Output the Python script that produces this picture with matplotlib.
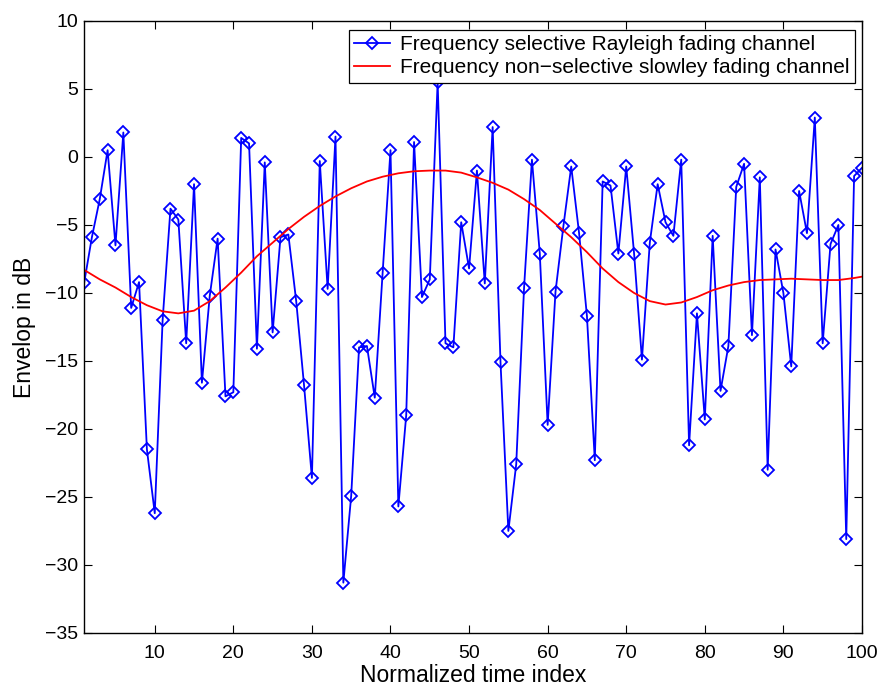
import numpy as np
import matplotlib.pyplot as plt

plt.rcParams['font.family'] = ['Liberation Sans', 'DejaVu Sans']

# Rayleigh fading envelope (dB) at each time index 1..100
t = np.arange(1, 101)
rayleigh_db = [
    -9.3, -5.9, -3.1, 0.5, -6.5, 1.8, -11.1, -9.2, -21.5, -26.2,
    -12.0, -3.8, -4.6, -13.7, -2.0, -16.6, -10.2, -6.0, -17.6, -17.3,
    1.4, 1.0, -14.1, -0.4, -12.9, -5.9, -5.7, -10.6, -16.8, -23.6,
    -0.3, -9.7, 1.5, -31.3, -24.9, -14.0, -13.9, -17.7, -8.5, 0.5,
    -25.7, -19.0, 1.1, -10.3, -9.0, 5.5, -13.7, -14.0, -4.8, -8.2,
    -1.0, -9.3, 2.2, -15.1, -27.5, -22.6, -9.6, -0.2, -7.1, -19.7,
    -9.9, -5.1, -0.7, -5.6, -11.7, -22.3, -1.8, -2.1, -7.1, -0.7,
    -7.1, -14.9, -6.3, -2.0, -4.8, -5.8, -0.2, -21.2, -11.5, -19.3,
    -5.8, -17.2, -13.9, -2.2, -0.5, -13.1, -1.5, -23.0, -6.8, -10.0,
    -15.4, -2.5, -5.6, 2.9, -13.7, -6.4, -5.0, -28.1, -1.4, -0.8,
]

# slow (non-selective) fading envelope, read every other index
slow_t = [1, 3, 5, 7, 9, 11, 13, 15, 17, 19, 21, 23, 25, 27, 29, 31, 33,
          35, 37, 39, 41, 43, 45, 47, 49, 51, 53, 55, 57, 59, 61, 63, 65,
          67, 69, 71, 73, 75, 77, 79, 81, 83, 85, 87, 89, 91, 93, 95, 97,
          99, 100]
slow_db = [-8.3, -9.0, -9.6, -10.3, -10.9, -11.35, -11.5, -11.3, -10.6,
           -9.6, -8.5, -7.3, -6.3, -5.3, -4.4, -3.6, -2.9, -2.3, -1.8,
           -1.45, -1.2, -1.05, -1.0, -1.0, -1.15, -1.5, -1.9, -2.4, -3.1,
           -3.9, -4.9, -5.9, -7.0, -8.2, -9.2, -10.0, -10.6, -10.85, -10.7,
           -10.3, -9.8, -9.45, -9.2, -9.05, -9.0, -8.95, -9.0, -9.05, -9.05,
           -8.9, -8.8]

fig = plt.figure(figsize=(8.8, 6.88), dpi=100)
ax = fig.add_axes([0.0955, 0.080, 0.884, 0.8895])

ax.plot(t, rayleigh_db, color='#0000ff', lw=1.3, marker='D', ms=6.5,
        mfc='none', mec='#0000ff', mew=1.3,
        label='Frequency selective Rayleigh fading channel')
ax.plot(slow_t, slow_db, color='#ff0000', lw=1.3,
        label='Frequency non\u2212selective slowley fading channel')

ax.set_xlim(1, 100)
ax.set_ylim(-35, 10)
ax.set_xticks(np.arange(10, 101, 10))
ax.set_yticks(np.arange(-35, 11, 5))
ax.tick_params(direction='in', top=True, right=True, length=6, width=0.8,
               labelsize=14, pad=4)
ax.tick_params(axis='x', pad=9)
ax.set_yticklabels([str(v).replace('-', '\u2212') for v in range(-35, 11, 5)])
for s in ax.spines.values():
    s.set_linewidth(1.0)

ax.set_xlabel('Normalized time index', fontsize=16.5, labelpad=1)
ax.set_ylabel('Envelop in dB', fontsize=16.5, labelpad=7)

leg = ax.legend(loc='upper right', bbox_to_anchor=(1 - 7 / 778, 1 - 9 / 612),
                fontsize=15, fancybox=False, edgecolor='black', framealpha=1,
                borderaxespad=0, handlelength=1.7, handletextpad=0.5,
                labelspacing=0.2, borderpad=0.25)
leg.get_frame().set_linewidth(0.9)

fig.savefig('out.png', dpi=100)
